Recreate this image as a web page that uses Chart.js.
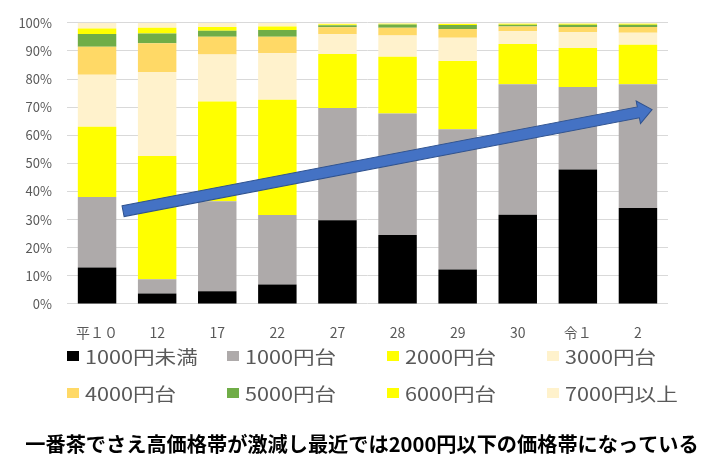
<!DOCTYPE html>
<html lang="ja">
<head>
<meta charset="utf-8">
<script src="https://cdn.jsdelivr.net/npm/chart.js@4/dist/chart.umd.min.js"></script>
<style>
  html, body { margin: 0; padding: 0; background: #fff; }
  #wrap { position: relative; width: 724px; height: 459px; }
  #legend { position: absolute; left: 0; top: 0; width: 724px; height: 459px; pointer-events: none;
            font-family: 'Noto Sans CJK JP', 'Noto Sans', sans-serif; color: #595959; }
  .lg-item { position: absolute; display: flex; align-items: center; height: 24px; white-space: nowrap; }
  .lg-box { width: 12px; height: 10px; margin-right: 6px; flex: none; }
  .lg-text { display: inline-block; font-size: 18px; line-height: 24px; transform: scaleX(1.2); transform-origin: left center; }
</style>
</head>
<body>
<div id="wrap">
  <canvas id="c" width="724" height="459"></canvas>
  <div id="legend"></div>
</div>
<script>
// ---- data (percent shares) ----
const categories = ['平１０', '12', '17', '22', '27', '28', '29', '30', '令１', '2'];
const seriesNames = ['1000円未満', '1000円台', '2000円台', '3000円台', '4000円台', '5000円台', '6000円台', '7000円以上'];
const under1000 = [13, 3.7, 4.5, 6.9, 29.8, 24.5, 12.3, 31.7, 47.8, 34.1];
const yen1000   = [25, 5.1, 32, 24.7, 39.9, 43.2, 49.8, 46.4, 29.4, 44];
const yen2000   = [25, 43.8, 35.5, 41, 19.2, 20.2, 24.3, 14.4, 13.8, 14.1];
const yen3000   = [18.5, 29.9, 16.7, 16.6, 7, 7.6, 8.3, 4.5, 5.7, 4.3];
const yen4000   = [10, 10.2, 6.3, 5.8, 2.5, 2.7, 3.1, 1.7, 1.8, 2];
const yen5000   = [4.5, 3.5, 2.2, 2.4, 0.7, 1.2, 1.4, 0.6, 0.8, 0.8];
const yen6000   = [2, 2, 1.3, 1.3, 0.4, 0.3, 0.4, 0.4, 0.4, 0.35];
const yen7000   = [2, 1.8, 1.5, 1.3, 0.5, 0.3, 0.4, 0.3, 0.3, 0.35];
const yTicks    = [0, 10, 20, 30, 40, 50, 60, 70, 80, 90, 100];
const titleText = '一番茶でさえ高価格帯が激減し最近では2000円以下の価格帯になっている';
// trend arrow, in data coordinates [category index, percent]
const arrowStart = [0.433, 33.0];
const arrowEnd   = [9.235, 69.1];

const seriesValues = [under1000, yen1000, yen2000, yen3000, yen4000, yen5000, yen6000, yen7000];
const seriesColors = ['#000000', '#AEAAAA', '#FFFF00', '#FFF2CC', '#FFD966', '#70AD47', '#FFFF00', '#FFF2CC'];

const FONT = "'Noto Sans CJK JP', 'Noto Sans', sans-serif";

const arrowPlugin = {
  id: 'trendArrow',
  afterDatasetsDraw(chart) {
    const { ctx, scales: { x, y } } = chart;
    const x0 = x.getPixelForValue(arrowStart[0]), y0 = y.getPixelForValue(arrowStart[1]);
    const x1 = x.getPixelForValue(arrowEnd[0]), y1 = y.getPixelForValue(arrowEnd[1]);
    const ang = Math.atan2(y1 - y0, x1 - x0);
    const len = Math.hypot(x1 - x0, y1 - y0);
    const sh = 5.5, hh = 11.5, hl = 14;
    ctx.save();
    ctx.translate(x0, y0);
    ctx.rotate(ang);
    ctx.beginPath();
    ctx.moveTo(0, -sh);
    ctx.lineTo(len - hl, -sh);
    ctx.lineTo(len - hl, -hh);
    ctx.lineTo(len, 0);
    ctx.lineTo(len - hl, hh);
    ctx.lineTo(len - hl, sh);
    ctx.lineTo(0, sh);
    ctx.closePath();
    ctx.fillStyle = '#4472C4';
    ctx.fill();
    ctx.lineWidth = 1;
    ctx.strokeStyle = '#2F528F';
    ctx.stroke();
    ctx.restore();
  }
};

const htmlLegendPlugin = {
  id: 'htmlLegend',
  afterUpdate(chart) {
    const el = document.getElementById('legend');
    el.innerHTML = '';
    const items = chart.options.plugins.legend.labels.generateLabels(chart);
    items.forEach((it, i) => {
      const col = i % 4, row = Math.floor(i / 4);
      const d = document.createElement('div');
      d.className = 'lg-item';
      d.style.left = (66.5 + col * 160) + 'px';
      d.style.top = (row === 0 ? 343.5 : 380.5) + 'px';
      const b = document.createElement('span');
      b.className = 'lg-box';
      b.style.background = it.fillStyle;
      const t = document.createElement('span');
      t.className = 'lg-text';
      t.textContent = it.text;
      d.appendChild(b); d.appendChild(t);
      el.appendChild(d);
    });
  }
};

new Chart(document.getElementById('c'), {
  type: 'bar',
  data: {
    labels: categories,
    datasets: seriesNames.map((n, i) => ({
      label: n,
      data: seriesValues[i],
      backgroundColor: seriesColors[i],
      borderWidth: 0,
      categoryPercentage: 1.0,
      barPercentage: 0.64
    }))
  },
  options: {
    responsive: false,
    devicePixelRatio: 1,
    animation: false,
    layout: { padding: { top: 13, right: 0, left: 0, bottom: 0 } },
    plugins: {
      legend: { display: false },
      tooltip: { enabled: false },
      title: {
        display: true,
        position: 'bottom',
        text: titleText,
        color: '#000000',
        font: { family: FONT, size: 20.2, weight: 'bold', lineHeight: 1.2 },
        padding: { top: 0, bottom: 3 }
      }
    },
    scales: {
      x: {
        stacked: true,
        grid: { display: false },
        border: { display: false },
        ticks: { color: '#595959', font: { family: FONT, size: 14 }, padding: 12, maxRotation: 0, autoSkip: false },
        afterFit(s) { s.height = 127.8; }
      },
      y: {
        stacked: true,
        min: 0,
        max: 100,
        afterBuildTicks(s) { s.ticks = yTicks.map(v => ({ value: v })); },
        grid: { color: '#D9D9D9', lineWidth: 1, drawTicks: false },
        border: { display: false },
        ticks: { color: '#595959', font: { family: FONT, size: 13 }, padding: 15, callback: v => v + '%' },
        afterFit(s) { s.width = 67; }
      },
      yRight: {
        position: 'right',
        min: 0,
        max: 100,
        grid: { display: false, drawTicks: false },
        border: { display: false },
        ticks: { display: false },
        afterFit(s) { s.width = 56; }
      }
    }
  },
  plugins: [arrowPlugin, htmlLegendPlugin]
});
</script>
</body>
</html>
